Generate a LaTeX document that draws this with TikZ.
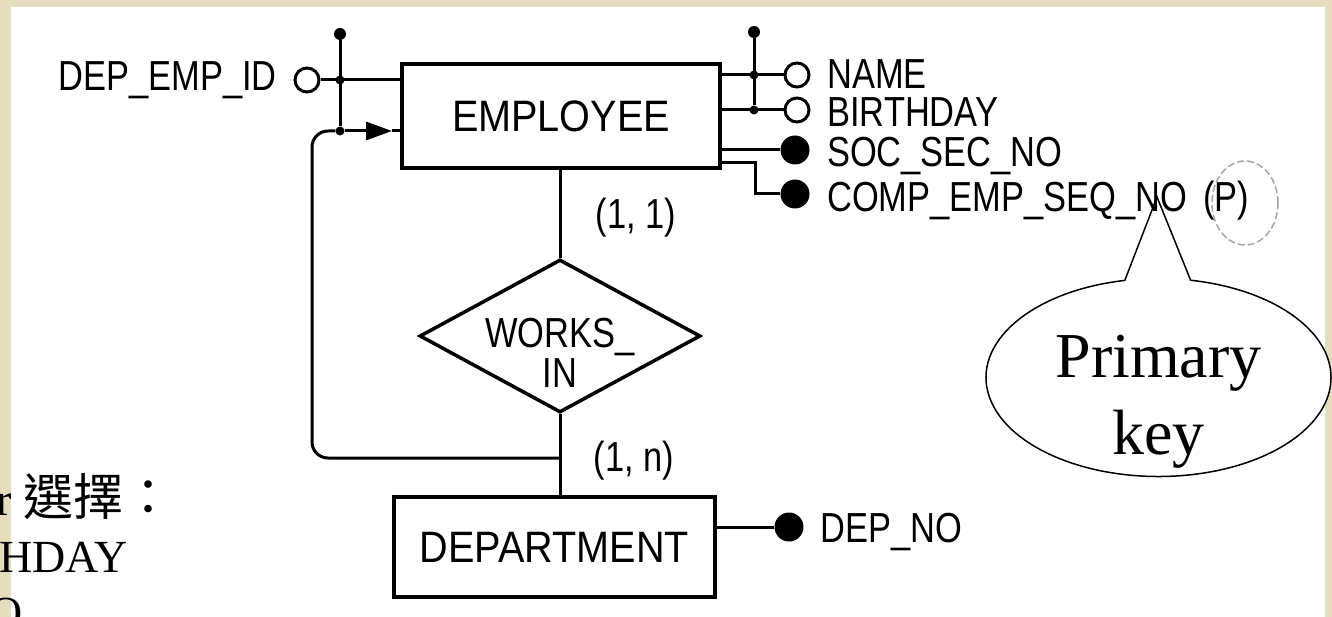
\documentclass[tikz,border=0pt]{standalone}
\usepackage{fontspec}
\setmainfont{Liberation Serif}
\newfontfamily\erfont[FakeStretch=0.82]{Liberation Sans}
\newfontfamily\boxfont[FakeStretch=0.9]{Liberation Sans}
\newfontfamily\cjkfont{Noto Sans CJK TC}
\usetikzlibrary{shapes.geometric,shapes.callouts,arrows.meta}
\definecolor{parchment}{RGB}{229,221,190}

\begin{document}
\begin{tikzpicture}[x=1pt,y=-1pt,
  entity/.style={draw, line width=4pt, rectangle, inner sep=0pt,
                 font=\boxfont\fontsize{44}{44}\selectfont},
  rel/.style={draw, line width=3.5pt, diamond, inner sep=0pt,
              minimum width=281pt, minimum height=153pt},
  link/.style={line width=3pt},
  opt/.style={circle, draw, line width=3pt, fill=white, minimum size=24pt, inner sep=0pt},
  req/.style={circle, fill=black, minimum size=29pt, inner sep=0pt},
  jdot/.style={circle, fill=black, minimum size=9pt, inner sep=0pt},
  enddot/.style={circle, fill=black, minimum size=12pt, inner sep=0pt},
  attr/.style={font=\erfont\fontsize{42}{40}\selectfont, inner sep=0pt},
  slide/.style={font=\fontsize{46}{56}\selectfont, inner sep=0pt},
]
% page and scanned sheet
\useasboundingbox (0,0) rectangle (1332,617);
\fill[parchment] (0,0) rectangle (1332,617);
\fill[white] (11,7) rectangle (1325,617);

% callout for the primary key
\coordinate (pktip) at (1157,197);
\node[ellipse callout, draw, line width=1.5pt, fill=white,
      minimum width=345pt, minimum height=198pt,
      callout absolute pointer={(pktip)}, callout pointer arc=22, inner sep=0pt]
      (pk) at (1158.5,377.5) {};
\node[font=\fontsize{64}{77}\selectfont, align=center, inner sep=0pt]
      (pklbl) at (1158.5,401.5) {Primary\\key};

% entities and relationship
\node[entity, minimum width=318pt, minimum height=104pt] (emp) at (561,116) {EMPLOYEE};
\node[entity, minimum width=321pt, minimum height=100pt] (dept) at (554.5,547) {DEPARTMENT};
\node[rel] (works) at (560,336) {};
\node[attr, align=center] (workslbl) at (560,352.5) {WORKS\_\\IN};

\draw[link] (emp.south -| works.north) -- (works.north);
\draw[link] (works.south) -- (works.south |- dept.north);
\node[attr, anchor=base] (c11) at (636,229) {(1, 1)};
\node[attr, anchor=base] (c1n) at (634,471) {(1, n)};

% identifier on the left and the recursive link
\node[opt] (cdepemp) at (307,80) {};
\node[attr, anchor=base east] (tdepemp) at (277,91) {DEP\_EMP\_ID};
\node[enddot] (jltop) at (340,34) {};
\node[jdot] (jlmid) at (340,80) {};
\node[jdot] (jlbot) at (340,131) {};
\draw[link] (jltop) -- (jlbot);
\draw[link] (cdepemp) -- (cdepemp -| emp.west);
\coordinate (atip) at (392,131);
\draw[link, -{Triangle[length=26pt,width=18pt]}] (jlbot) -- (atip);
\draw[link] (atip) -- (atip -| emp.west);
\coordinate (jloop) at (560,458);
\draw[link, rounded corners=16pt] (jloop) -- (312,458) -- (312,131) -- (jlbot);

% attributes of EMPLOYEE
\node[enddot] (jrtop) at (754,32) {};
\node[jdot] (jrname) at (754,75) {};
\node[jdot] (jrbirth) at (754,110) {};
\draw[link] (jrtop) -- (jrbirth);
\node[opt] (cname) at (797,75) {};
\node[opt] (cbirth) at (797,110) {};
\node[req] (csoc) at (795,150) {};
\node[req] (ccomp) at (795,194) {};
\draw[link] (cname -| emp.east) -- (cname);
\draw[link] (cbirth -| emp.east) -- (cbirth);
\draw[link] (csoc -| emp.east) -- (csoc);
\coordinate (kcomp) at (755,163);
\draw[link] (kcomp -| emp.east) -- (kcomp) -- (kcomp |- ccomp) -- (ccomp);

\node[attr, anchor=base west] (tname) at (827,89) {NAME};
\node[attr, anchor=base west] (tbirth) at (827,127) {BIRTHDAY};
\node[attr, anchor=base west] (tsoc) at (827,167) {SOC\_SEC\_NO};
\node[attr, anchor=base west] (tcomp) at (827,212) {COMP\_EMP\_SEQ\_NO};
\node[attr, anchor=base west] (tpk) at (1203,212) {(P)};
\draw[gray!70, line width=1.5pt, dash pattern=on 7pt off 3pt]
     (1245,203) ellipse [x radius=33pt, y radius=42pt];

% attribute of DEPARTMENT
\node[req] (cdepno) at (789,527) {};
\draw[link] (cdepno -| dept.east) -- (cdepno);
\node[attr, anchor=base west] (tdepno) at (820,542) {DEP\_NO};

% slide text showing at the lower left
\node[slide, anchor=base west] (frag1) at (-4,515) {r {\cjkfont\fontsize{50}{56}\selectfont 選擇：}};
\node[slide, anchor=base west] (frag2) at (-1,572) {HDAY};
\node[slide, anchor=base west] (frag3) at (-11,628) {O};
\end{tikzpicture}
\end{document}
